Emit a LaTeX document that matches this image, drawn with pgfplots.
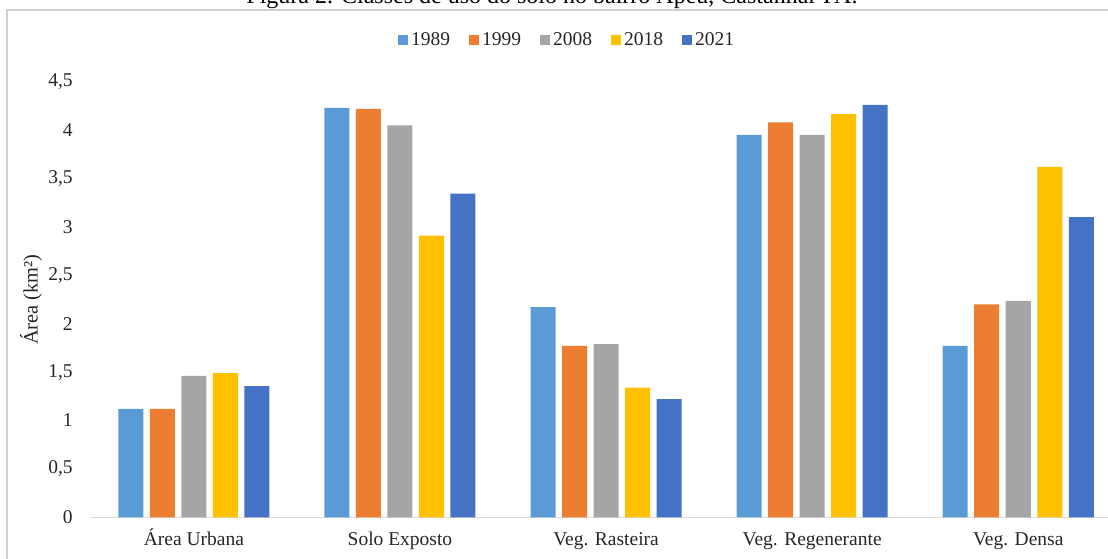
\documentclass[border=0pt]{standalone}
\usepackage{fontspec}
\setmainfont{Liberation Serif}
\usepackage{pgfplots}
\pgfplotsset{compat=1.18}
\definecolor{cA}{HTML}{5B9BD5}
\definecolor{cB}{HTML}{ED7D31}
\definecolor{cC}{HTML}{A5A5A5}
\definecolor{cD}{HTML}{FFC000}
\definecolor{cE}{HTML}{4472C4}
\definecolor{lgray}{HTML}{D9D9D9}
\definecolor{fgray}{HTML}{D0D0D0}
\definecolor{txt}{HTML}{262626}
\begin{document}
\fontsize{9.75}{11.7}\selectfont
\begin{tikzpicture}
\begin{axis}[
  at={(45.4pt,20.35pt)}, anchor=south west,
  width=515.25pt, height=217.8pt, scale only axis,
  xmin=-0.5, xmax=4.5, ymin=0, ymax=4.5,
  ybar=3.25pt, bar width=12.5pt,
  xtick={0,1,2,3,4},
  xticklabels={Área Urbana, Solo Exposto, Veg. Rasteira, Veg. Regenerante, Veg. Densa},
  ytick={0,0.5,1,1.5,2,2.5,3,3.5,4,4.5},
  axis x line*=bottom, axis y line*=left,
  y axis line style={draw=none},
  x axis line style={draw=lgray, line width=0.75pt, -},
  tick style={draw=none},
  major tick length=0pt,
  /pgf/number format/assume math mode=true,
  /pgf/number format/use comma,
  /pgf/number format/1000 sep={},
  yticklabel style={anchor=east, xshift=-5.6pt, text=txt},
  xticklabel style={anchor=base, yshift=-14.2pt, text=txt},
  ylabel={Área (km²)},
  every axis y label/.style={at={(axis description cs:-0.058,0.5)}, rotate=90, anchor=center, font=\fontsize{10.2}{12}\selectfont, text=txt},
  legend style={at={(axis description cs:0.4626,1.0957)}, anchor=center, draw=none, fill=none,
    legend columns=5, /tikz/every even column/.append style={column sep=8pt}, text=txt,
    nodes={inner xsep=1.5pt}},
  legend image code/.code={\fill[#1] (0pt,-2.5pt) rectangle (5pt,2.5pt);},
  clip=false,
]
\addplot[fill=cA, draw=none] coordinates {(0,1.12) (1,4.23) (2,2.17) (3,3.95) (4,1.77)};
\addplot[fill=cB, draw=none] coordinates {(0,1.12) (1,4.22) (2,1.77) (3,4.08) (4,2.20)};
\addplot[fill=cC, draw=none] coordinates {(0,1.46) (1,4.05) (2,1.79) (3,3.95) (4,2.235)};
\addplot[fill=cD, draw=none] coordinates {(0,1.49) (1,2.91) (2,1.34) (3,4.165) (4,3.62)};
\addplot[fill=cE, draw=none] coordinates {(0,1.355) (1,3.345) (2,1.22) (3,4.26) (4,3.10)};
\legend{1989,1999,2008,2018,2021}
\end{axis}
\draw[fgray, line width=0.8pt] (3.5pt,-20pt) -- (3.5pt,274pt) -- (600pt,274pt);
\node[anchor=base, inner sep=0pt, font=\fontsize{12}{14}\selectfont] at (276pt,277.25pt)
  {Figura 2. Classes de uso do solo no bairro Apeú, Castanhal-PA.};
\pgfresetboundingbox
\path[use as bounding box] (0pt,0pt) rectangle (554pt,279pt);
\end{tikzpicture}
\end{document}
